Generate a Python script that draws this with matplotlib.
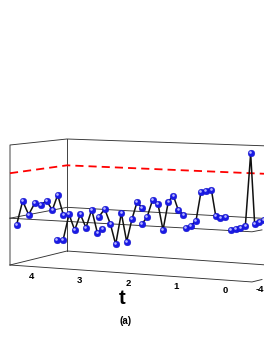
import matplotlib
matplotlib.use('Agg')
import matplotlib.pyplot as plt
import numpy as np

plt.rcParams['font.family'] = ['Liberation Sans', 'DejaVu Sans']

# series, one list per unbroken stretch of the line
t_1 = [4.657, 4.533, 4.409, 4.285, 4.161, 4.037, 3.92, 3.809, 3.693]
z_1 = [.308, .512, .399, .498, .489, .522, .449, .578, .415]
t_2 = [3.823, 3.699, 3.575, 3.458, 3.341, 3.224, 3.107, 2.99, 2.887]
z_2 = [.202, .200, .421, .292, .426, .317, .470, .282, .312]
t_3 = [2.956, 2.838, 2.721, 2.611, 2.494, 2.384, 2.274, 2.17, 2.067]
z_3 = [.415, .481, .360, .194, .455, .222, .411, .550, .508]
t_4 = [2.074, 1.964, 1.847, 1.737, 1.633, 1.523, 1.42, 1.316, 1.213]
z_4 = [.372, .431, .578, .545, .335, .568, .619, .502, .469]
t_5 = [1.165, 1.062, .951, .848, .745, .634, .545, .449, .345]
z_5 = [.365, .381, .426, .661, .669, .681, .475, .455, .466]
t_6 = [.235, .132, .036, -.068, -.178, -.26, -.357, -.453]
z_6 = [.364, .380, .390, .405, .984, .428, .440, .458]
series = [(t_1, z_1), (t_2, z_2), (t_3, z_3), (t_4, z_4), (t_5, z_5), (t_6, z_6)]

w_data = -2
t_max, t_min = 4.5, -0.5
t_end = 0.43          # the back wall runs out of the picture here
w_front, w_back = -4, 4
z_mid = 0.39
z_red = 0.765
t_ticks = [4, 3, 2, 1, 0]


# projecao da caixa 3D para pixels da figura
def proj(t, w, z):
    t, w, z = np.asarray(t, float), np.asarray(w, float), np.asarray(z, float)
    u = t_max - t
    x = 10 + 48.4 * u + (w + 4) * 7.125
    y = 265 + 3.39 * u - (w + 4) * 1.75
    s = 112 + 1.72 * u + (4 - w)
    return x, y - z * s


def linha(ax, pts, **kw):
    t, w, z = zip(*pts)
    x, y = proj(t, w, z)
    ax.plot(x, y, **kw)


fig = plt.figure(figsize=(2.64, 3.41), dpi=100)
ax = fig.add_axes([0, 0, 1, 1])
ax.set_xlim(0, 264)
ax.set_ylim(341, 0)
ax.axis('off')

frame = dict(color='#333333', lw=0.65, zorder=1)
# chao
linha(ax, [(t_max, w_front, 0), (t_max, w_back, 0), (t_end, w_back, 0)], **frame)
linha(ax, [(t_max, w_front, 0), (t_min, w_front, 0), (t_min, -2.6, 0)], **frame)
# paredes
linha(ax, [(t_max, w_front, 0), (t_max, w_front, 1), (t_max, w_back, 1), (t_end, w_back, 1)], **frame)
linha(ax, [(t_max, w_back, 0), (t_max, w_back, 1)], **frame)
# plano do meio
linha(ax, [(t_max, w_front, z_mid), (t_max, w_back, z_mid), (t_end, w_back, z_mid)], **frame)
linha(ax, [(t_max, w_front, z_mid), (t_min, w_front, z_mid), (t_min, -2.6, z_mid)], **frame)

linha(ax, [(t_max, w_front, z_red), (t_max, w_back, z_red), (t_end, w_back, z_red)],
      color='red', lw=1.3, dashes=(4.5, 2.8), zorder=2)

for t, z in series:
    x, y = proj(t, w_data, z)
    ax.plot(x, y, color='#111111', lw=1.1, zorder=3)
    ax.scatter(x, y, s=23, color='#1a1ae6', edgecolors='#1010c0', linewidths=0.3, zorder=4)
    ax.scatter(x - 0.8, y - 0.9, s=3.5, color='#b8b8ff', linewidths=0, zorder=5)

for tk in t_ticks:
    x, y = proj(tk, w_front, 0)
    ax.text(x - 3, y + 10, str(tk), fontsize=6.8, fontweight='bold', ha='center', va='center')
x, y = proj(t_min, w_front, 0)
ax.text(x + 8, y + 8, '-4', fontsize=6.8, fontweight='bold', ha='center', va='center')

ax.text(122, 299, 't', fontsize=14.5, fontweight='bold', ha='center', va='center')
ax.text(126, 321, '(a)', fontsize=7, fontweight='bold', ha='center', va='center')

fig.savefig('out.png', dpi=100)
